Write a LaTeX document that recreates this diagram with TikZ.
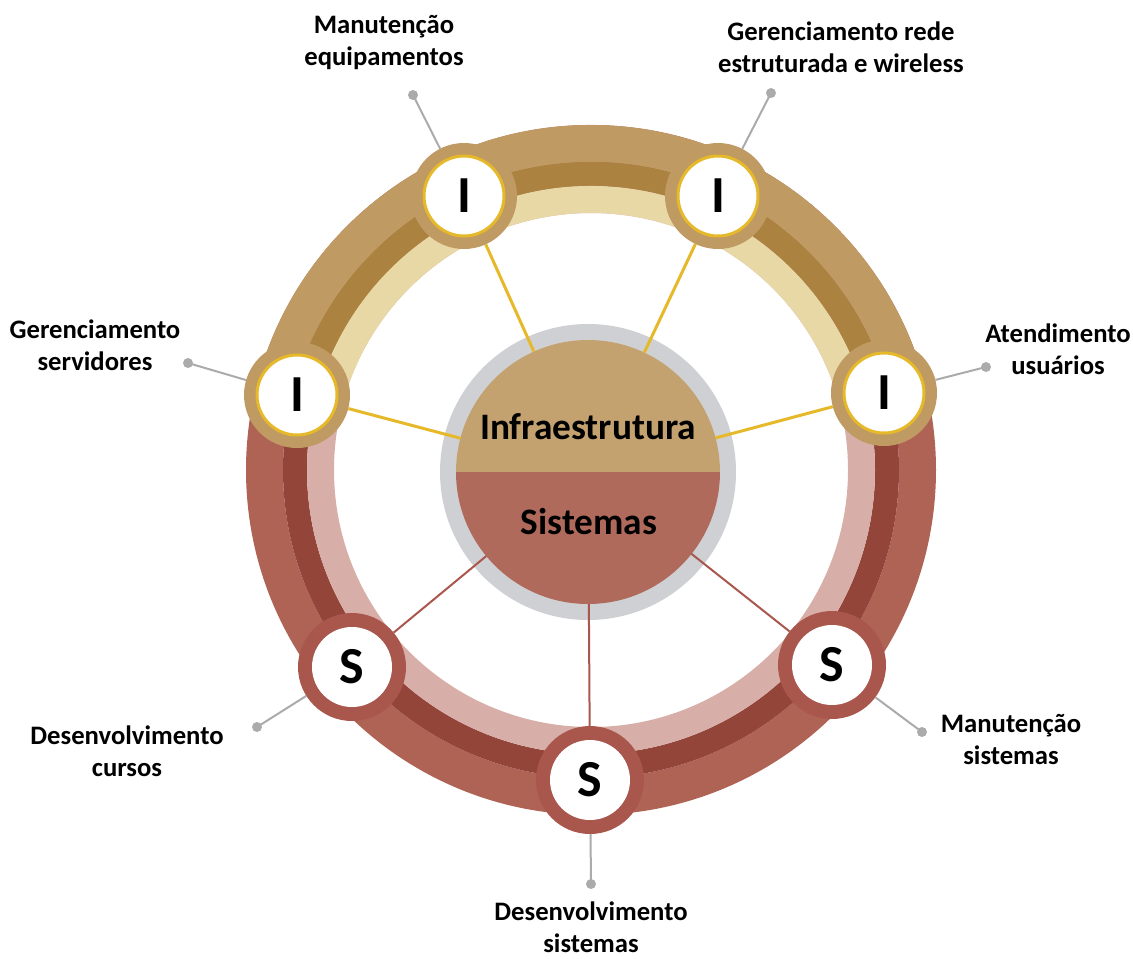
\documentclass[tikz,border=0pt]{standalone}
\usepackage{fontspec}
\setmainfont{Carlito}
\usetikzlibrary{positioning}
\definecolor{tanout}{HTML}{C09A63}
\definecolor{tandark}{HTML}{AC8240}
\definecolor{tanlight}{HTML}{E8D8A5}
\definecolor{redout}{HTML}{AF6354}
\definecolor{reddark}{HTML}{93453A}
\definecolor{redlight}{HTML}{D7AFA8}
\definecolor{hubtan}{HTML}{C4A270}
\definecolor{hubred}{HTML}{B06A5B}
\definecolor{hubgray}{HTML}{CFD0D4}
\definecolor{igold}{HTML}{E6B92A}
\definecolor{sring}{HTML}{A9574D}
\definecolor{leadgray}{HTML}{ABABAB}

\begin{document}
\begin{tikzpicture}[x=0.75pt, y=-0.75pt,
  iout/.style={circle, fill=tanout, minimum size=79.5pt, inner sep=0pt, outer sep=0pt},
  iin/.style={circle, fill=white, draw=igold, line width=2.25pt, minimum size=60pt, inner sep=0pt, font=\fontsize{39}{42}\selectfont\bfseries},
  sout/.style={circle, fill=sring, minimum size=81pt, inner sep=0pt, outer sep=0pt},
  sin/.style={circle, fill=white, minimum size=60pt, inner sep=0pt, font=\fontsize{39}{42}\selectfont\bfseries},
  hubtext/.style={font=\fontsize{28}{32}\selectfont\bfseries},
  label/.style={align=center, inner sep=0pt, font=\fontsize{20}{24}\selectfont\bfseries},
  spokei/.style={draw=igold, line width=2.25pt},
  spokes/.style={draw=sring, line width=1.5pt},
  leader/.style={draw=leadgray, line width=1.5pt}]
\useasboundingbox (0,0) rectangle (1133,958);

% Ring
\begin{scope}[shift={(591,470)}]
  \foreach \ro/\ri/\col in {345/308/redout, 308/284/reddark, 284/257/redlight}
    \fill[\col, even odd rule] (0,0) circle[radius=\ro] circle[radius=\ri];
  \foreach \ro/\ri/\col in {345/308/tanout, 308/284/tandark, 284/257/tanlight}
    \fill[\col] (-171:\ro) arc[start angle=-171, end angle=-10, radius=\ro]
      -- (-10:\ri) arc[start angle=-10, end angle=-171, radius=\ri] -- cycle;
\end{scope}

% Hub
\node[circle, fill=hubgray, minimum size=222pt, inner sep=0pt] (hubring) at (588,472) {};
\node[circle, minimum size=198pt, inner sep=0pt, outer sep=0pt] (hub) at (588,472) {};
\fill[hubtan] (hub.west) arc[start angle=180, end angle=360, radius=132] -- cycle;
\fill[hubred] (hub.west) arc[start angle=180, end angle=0, radius=132] -- cycle;
\node[hubtext] (tInfra) at (588,427) {Infraestrutura};
\node[hubtext] (tSis) at (589,522) {Sistemas};

% I nodes
\node[iout] (iServ) at (297,395) {};
\node[iout] (iEquip) at (464,196) {};
\node[iout] (iRede) at (718,196) {};
\node[iout] (iAtend) at (884,393) {};
\foreach \n in {iServ, iEquip, iRede, iAtend}
  \node[iin] (\n-in) at (\n) {I};

% S nodes
\node[sout] (sCursos) at (352,667) {};
\node[sout] (sDevSis) at (590,780) {};
\node[sout] (sManSis) at (832,665) {};
\foreach \n in {sCursos, sDevSis, sManSis}
  \node[sin] (\n-in) at (\n) {S};

% Spokes
\foreach \n in {iServ, iEquip, iRede, iAtend}
  \draw[spokei] (hub) -- (\n);
\foreach \n in {sCursos, sDevSis, sManSis}
  \draw[spokes] (hub) -- (\n);

% Leader dots
\coordinate (dServ) at (188,363);
\coordinate (dEquip) at (413,95);
\coordinate (dRede) at (771,93);
\coordinate (dAtend) at (986,367);
\coordinate (dCursos) at (257,727);
\coordinate (dDevSis) at (591,884);
\coordinate (dManSis) at (922,732);
\foreach \n in {Serv, Equip, Rede, Atend}
  \draw[leader] (d\n) -- (i\n);
\foreach \n in {Cursos, DevSis, ManSis}
  \draw[leader] (d\n) -- (s\n);
\foreach \n in {Serv, Equip, Rede, Atend, Cursos, DevSis, ManSis}
  \fill[leadgray] (d\n) circle[radius=5];

% Labels
\node[label] (lEquip) at (384,42) {Manutenção\\equipamentos};
\node[label] (lRede) at (841,47) {Gerenciamento rede\\estruturada e wireless};
\node[label] (lServ) at (95,345) {Gerenciamento\\servidores};
\node[label] (lAtend) at (1058,349) {Atendimento\\usuários};
\node[label] (lCursos) at (127,751) {Desenvolvimento\\cursos};
\node[label] (lManSis) at (1011,739) {Manutenção\\sistemas};
\node[label] (lDevSis) at (591,927) {Desenvolvimento\\sistemas};
\end{tikzpicture}
\end{document}
